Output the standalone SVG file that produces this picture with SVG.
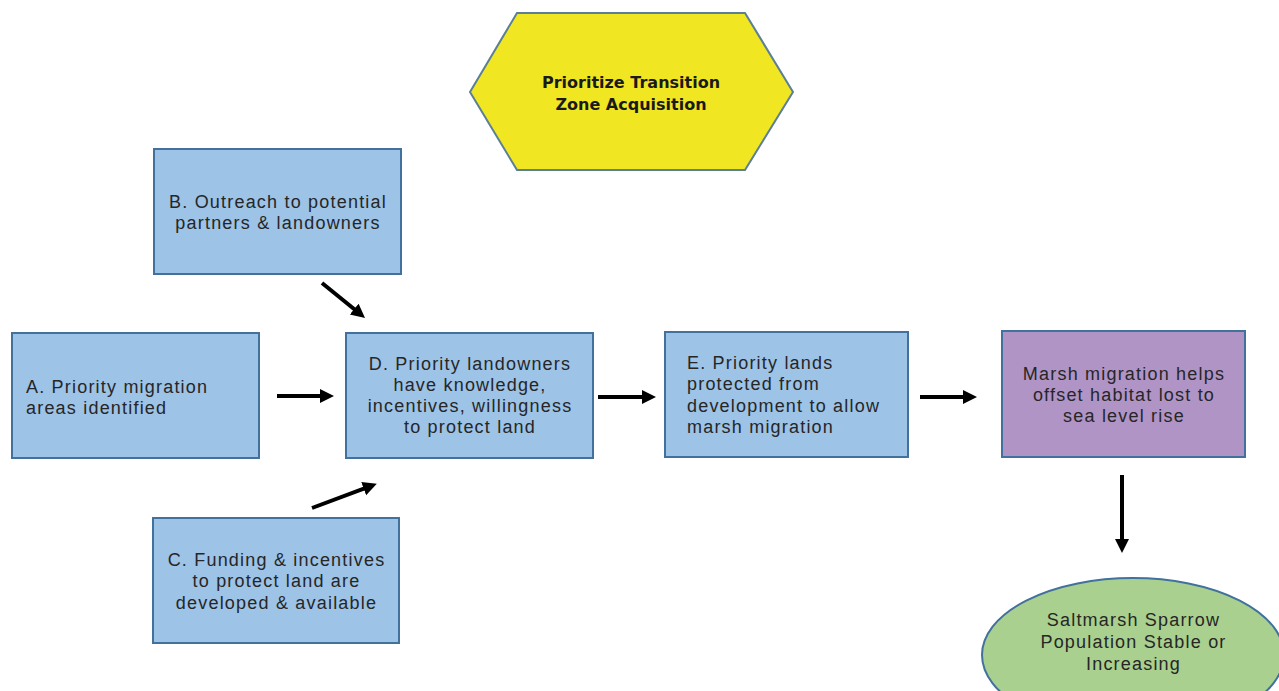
<svg xmlns="http://www.w3.org/2000/svg" width="1279" height="691" viewBox="0 0 1279 691">
<style>
.box{fill:#9dc3e6;stroke:#41719c;stroke-width:2}
.purple{fill:#b094c6;stroke:#41719c;stroke-width:2}
.green{fill:#a9d08e;stroke:#41719c;stroke-width:2}
.hex{fill:#f0e722;stroke:#5b7f95;stroke-width:2}
.t{font-family:"Liberation Sans",Arial,sans-serif;font-size:18px;letter-spacing:1.2px;fill:#262626}
.c{text-anchor:middle}
.h{font-family:"DejaVu Sans","Liberation Sans",sans-serif;font-weight:bold;font-size:16px;fill:#1a1a1a;text-anchor:middle}
.arr{stroke:#000;stroke-width:4;fill:none;marker-end:url(#ah)}
</style>
<defs>
<marker id="ah" markerUnits="userSpaceOnUse" markerWidth="15" markerHeight="15" refX="3" refY="7" orient="auto">
<path d="M0,0 L14,7 L0,14 z" fill="#000"/>
</marker>
</defs>
<rect width="1279" height="691" fill="#ffffff"/>
<g id="hexagon">
<polygon class="hex" points="517,13 745,13 793,92 745,170 517,170 470,92"/>
<text class="h" x="631" y="88">Prioritize Transition</text>
<text class="h" x="631" y="110">Zone Acquisition</text>
</g>
<g id="nodeB">
<rect class="box" x="154" y="149" width="247" height="125"/>
<text class="t c" x="278" y="208">B. Outreach to potential</text>
<text class="t c" x="278" y="229">partners &amp; landowners</text>
</g>
<g id="nodeA">
<rect class="box" x="12" y="333" width="247" height="125"/>
<text class="t" x="26" y="393">A. Priority migration</text>
<text class="t" x="26" y="414">areas identified</text>
</g>
<g id="nodeD">
<rect class="box" x="346" y="333" width="247" height="125"/>
<text class="t c" x="470" y="370">D. Priority landowners</text>
<text class="t c" x="470" y="391">have knowledge,</text>
<text class="t c" x="470" y="412">incentives, willingness</text>
<text class="t c" x="470" y="433">to protect land</text>
</g>
<g id="nodeC">
<rect class="box" x="153" y="518" width="246" height="125"/>
<text class="t c" x="276.5" y="566">C. Funding &amp; incentives</text>
<text class="t c" x="276.5" y="587">to protect land are</text>
<text class="t c" x="276.5" y="609">developed &amp; available</text>
</g>
<g id="nodeE">
<rect class="box" x="665" y="332" width="243" height="125"/>
<text class="t" x="687" y="369">E. Priority lands</text>
<text class="t" x="687" y="390">protected from</text>
<text class="t" x="687" y="412">development to allow</text>
<text class="t" x="687" y="433">marsh migration</text>
</g>
<g id="nodeMarsh">
<rect class="purple" x="1002" y="331" width="243" height="126"/>
<text class="t c" x="1124" y="380">Marsh migration helps</text>
<text class="t c" x="1124" y="401">offset habitat lost to</text>
<text class="t c" x="1124" y="422">sea level rise</text>
</g>
<g id="nodeSparrow">
<ellipse class="green" cx="1133" cy="655" rx="151" ry="77"/>
<text class="t c" x="1133.5" y="626">Saltmarsh Sparrow</text>
<text class="t c" x="1133.5" y="648">Population Stable or</text>
<text class="t c" x="1133.5" y="670">Increasing</text>
</g>
<g id="connectors">
<line class="arr" x1="277" y1="396" x2="323" y2="396"/>
<line class="arr" x1="322" y1="283" x2="356.5" y2="311"/>
<line class="arr" x1="312" y1="508" x2="366.5" y2="487.6"/>
<line class="arr" x1="598" y1="397" x2="645" y2="397"/>
<line class="arr" x1="920" y1="397" x2="966" y2="397"/>
<line class="arr" x1="1122" y1="475" x2="1122" y2="542"/>
</g>
</svg>
